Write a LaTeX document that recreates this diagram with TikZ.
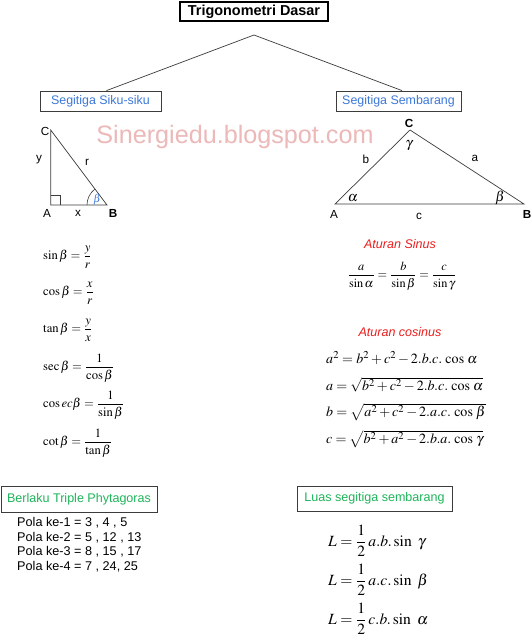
\documentclass[tikz,border=0pt]{standalone}
\usepackage{amsmath}
\usepackage{mathptmx}
\usepackage{fontspec}
\setmainfont{Liberation Sans}
\usetikzlibrary{positioning}

\definecolor{birusiku}{RGB}{60,120,216}
\definecolor{hijaukotak}{RGB}{30,180,90}
\definecolor{merahaturan}{RGB}{235,30,30}
\definecolor{pinktanda}{RGB}{236,184,184}
\definecolor{garis}{RGB}{60,60,60}

\tikzset{
  kotak/.style={draw=garis, line width=0.7pt, inner sep=0pt, minimum height=0.6cm},
  teksbiru/.style={text=birusiku, font=\fontsize{10.6}{12}\selectfont},
  tekshijau/.style={text=hijaukotak, font=\fontsize{10.7}{12}\selectfont},
  label/.style={font=\fontsize{10}{11}\selectfont, inner sep=1pt},
  rumus/.style={anchor=west, inner sep=0pt, font=\fontsize{10.8}{12}\selectfont},
  rumusbesar/.style={anchor=west, inner sep=0pt, font=\fontsize{12}{14}\selectfont},
  pola/.style={anchor=west, inner sep=0pt, font=\fontsize{10.8}{12}\selectfont},
  aturan/.style={text=merahaturan, font=\itshape\fontsize{10.7}{12}\selectfont},
}

\begin{document}
\begin{tikzpicture}[x=0.03cm,y=-0.03cm]
\fill[white] (0,0) rectangle (532,640);
\useasboundingbox (0,0) rectangle (532,640);

% judul dan cabang
\node[draw, line width=1pt, minimum width=4.44cm, minimum height=0.57cm, inner sep=0pt, font=\bfseries\fontsize{12.3}{14}\selectfont] (judul) at (254,11.5) {Trigonometri Dasar};
\node[kotak, teksbiru, minimum width=3.63cm] (siku) at (100.5,101) {Segitiga Siku-siku};
\node[kotak, teksbiru, minimum width=3.75cm] (sembarang) at (398.5,101) {Segitiga Sembarang};
\coordinate (puncak) at (254,35);
\draw[garis, line width=0.6pt] (siku.north) ++(6,0) -- (puncak) -- ([xshift=3]sembarang.north);

\node[text=pinktanda, font=\fontsize{21.5}{24}\selectfont] (tanda) at (235,137) {Sinergiedu.blogspot.com};

% segitiga siku-siku
\coordinate (sA) at (50.7,205);
\coordinate (sB) at (107,205);
\coordinate (sC) at (50.7,130);
\draw[garis, line width=0.6pt] (sA) -- (sB) -- (sC) -- cycle;
\draw[garis, line width=0.6pt] (50.7,195) -- (60,195) -- (60,205);
\draw[garis, line width=0.5pt] ([xshift=-0.6cm]sB) arc[start angle=180, end angle=127, radius=0.6cm];
\node[text=birusiku, inner sep=0pt, font=\fontsize{9.5}{10}\selectfont] (betasiku) at (97,200) {$\beta$};
\node[label] (lC) at (45,131) {C};
\node[label] (ly) at (39,160) {y};
\node[label] (lr) at (87,162) {r};
\node[label] (lA) at (47,213) {A};
\node[label] (lx) at (78,213) {x};
\node[label, font=\bfseries\fontsize{10}{11}\selectfont] (lB) at (113,213) {B};

% segitiga sembarang
\coordinate (tA) at (335,204);
\coordinate (tB) at (524,204);
\coordinate (tC) at (410,130);
\draw[garis, line width=0.6pt] (tA) -- (tB) -- (tC) -- cycle;
\node[label, font=\bfseries\fontsize{10}{11}\selectfont] (tlC) at (409,123) {C};
\node[label, font=\fontsize{12}{13}\selectfont] (tgamma) at (409,146) {$\gamma$};
\node[label] (tlb) at (366,159) {b};
\node[label] (tla) at (475,158) {a};
\node[label, font=\fontsize{12}{13}\selectfont] (talpha) at (353,198) {$\alpha$};
\node[label, font=\fontsize{12}{13}\selectfont] (tbeta) at (500,198) {$\beta$};
\node[label] (tlA) at (334,214) {A};
\node[label] (tlc) at (419,216) {c};
\node[label, font=\bfseries\fontsize{10}{11}\selectfont] (tlB) at (527,214) {B};

% rumus perbandingan
\node[rumus] (rsin) at (43,257) {$\sin\beta = \dfrac{y}{r}$};
\node[rumus] (rcos) at (43,293) {$\cos\beta = \dfrac{x}{r}$};
\node[rumus] (rtan) at (43,330) {$\tan\beta = \dfrac{y}{x}$};
\node[rumus] (rsec) at (43,368) {$\sec\beta = \dfrac{1}{\cos\beta}$};
\node[rumus] (rcsc) at (43,405) {$\cos ec\beta = \dfrac{1}{\sin\beta}$};
\node[rumus] (rcot) at (43,443) {$\cot\beta = \dfrac{1}{\tan\beta}$};

% aturan sinus dan cosinus
\node[aturan] (atsin) at (400,244) {Aturan Sinus};
\node[inner sep=0pt, font=\fontsize{10.5}{12}\selectfont] (hksin) at (402,276) {$\dfrac{a}{\sin\alpha}=\dfrac{b}{\sin\beta}=\dfrac{c}{\sin\gamma}$};
\node[aturan] (atcos) at (400,332) {Aturan cosinus};
\node[rumusbesar] (cos1) at (326,358) {$a^{2} = b^{2} + c^{2} - 2.b.c.\,\cos\,\alpha$};
\node[rumusbesar] (cos2) at (326,385) {$a = \sqrt{b^{2} + c^{2} - 2.b.c.\,\cos\,\alpha}$};
\node[rumusbesar] (cos3) at (326,412) {$b = \sqrt{a^{2} + c^{2} - 2.a.c.\,\cos\,\beta}$};
\node[rumusbesar] (cos4) at (326,439) {$c = \sqrt{b^{2} + a^{2} - 2.b.a.\,\cos\,\gamma}$};

% triple dan luas
\node[kotak, tekshijau, minimum width=4.68cm, minimum height=0.78cm] (triple) at (79,499) {Berlaku Triple Phytagoras};
\node[pola] (pola1) at (17,523) {Pola ke-1 = 3 , 4 , 5};
\node[pola] (pola2) at (17,538) {Pola ke-2 = 5 , 12 , 13};
\node[pola] (pola3) at (17,552) {Pola ke-3 = 8 , 15 , 17};
\node[pola] (pola4) at (17,567) {Pola ke-4 = 7 , 24, 25};

\node[kotak, tekshijau, minimum width=4.65cm, minimum height=0.75cm] (luas) at (374.5,498.5) {Luas segitiga sembarang};
\node[rumusbesar, font=\fontsize{13.3}{15}\selectfont] (luas1) at (328,541) {$L = \dfrac{1}{2}\,a.b.\sin\ \gamma$};
\node[rumusbesar, font=\fontsize{13.3}{15}\selectfont] (luas2) at (328,580) {$L = \dfrac{1}{2}\,a.c.\sin\ \beta$};
\node[rumusbesar, font=\fontsize{13.3}{15}\selectfont] (luas3) at (328,619) {$L = \dfrac{1}{2}\,c.b.\sin\ \alpha$};
\end{tikzpicture}
\end{document}
